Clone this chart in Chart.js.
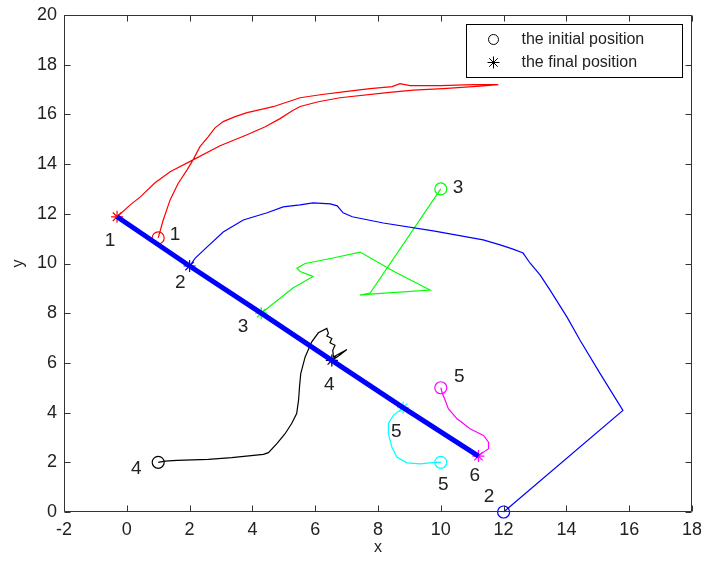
<!DOCTYPE html>
<html>
<head>
<meta charset="utf-8">
<script src="https://cdn.jsdelivr.net/npm/chart.js@4.4.0/dist/chart.umd.min.js"></script>
<style>
  html, body { margin: 0; padding: 0; background: #fff; }
</style>
</head>
<body>
<canvas id="myChart" width="701" height="562"></canvas>
<script>
// agent trajectories, from initial position (first point) to final position (last point)
var path1X = [1.0, 1.16, 1.38, 1.63, 1.92, 2.11, 2.33, 2.59, 2.81, 3.07, 3.45, 3.83, 4.25, 4.66, 5.04, 5.52, 6.16, 6.95, 7.75, 8.45, 8.70, 9.02, 10.0, 11.03, 11.83,
              11.25, 10.08, 9.12, 8.29, 6.79, 6.10, 5.52, 5.27, 4.88, 4.41, 3.83, 2.97, 2.11, 1.38, 0.90, 0.43, 0.11, -0.31];
var path1Y = [11.03, 11.75, 12.56, 13.21, 13.77, 14.17, 14.70, 15.10, 15.46, 15.71, 15.91, 16.07, 16.19, 16.31, 16.47, 16.67, 16.79, 16.92, 17.04, 17.12, 17.24, 17.16, 17.16, 17.20, 17.20,
              17.14, 17.04, 16.98, 16.88, 16.67, 16.51, 16.32, 16.15, 15.83, 15.50, 15.18, 14.74, 14.17, 13.69, 13.25, 12.68, 12.36, 11.88];

var path2X = [12.0, 15.80, 15.07, 14.43, 14.02, 13.48, 13.16, 12.84, 12.62, 12.30, 11.89, 11.35, 9.76, 8.17, 7.18, 6.89, 6.70, 6.48, 5.93, 5.52, 4.98, 4.47, 3.71, 3.07, 2.56, 2.18, 2.0];
var path2Y = [0.0, 4.09, 5.58, 6.92, 7.84, 8.93, 9.54, 10.02, 10.42, 10.58, 10.75, 10.95, 11.31, 11.63, 11.88, 12.04, 12.32, 12.40, 12.44, 12.36, 12.28, 12.04, 11.75, 11.27, 10.67, 10.22, 9.9];

var path3X = [10.0, 7.75, 7.43, 7.75, 9.66, 8.54, 7.43, 6.53, 5.68, 5.42, 5.52, 5.93, 5.29, 4.28];
var path3Y = [13.0, 8.81, 8.73, 8.77, 8.93, 9.66, 10.46, 10.21, 10.0, 9.81, 9.68, 9.48, 9.01, 8.0];

var path4X = [1.0, 1.22, 1.59, 2.60, 3.34, 4.35, 4.51, 4.78, 5.04, 5.25, 5.41, 5.47, 5.50, 5.54, 5.68, 5.89, 6.10, 6.37, 6.42, 6.37, 6.53, 6.47, 6.63, 6.56, 6.58, 7.01, 6.73, 6.53];
var path4Y = [2.0, 2.05, 2.08, 2.12, 2.19, 2.32, 2.39, 2.75, 3.15, 3.56, 3.96, 4.50, 5.03, 5.57, 6.24, 6.85, 7.21, 7.39, 7.19, 7.08, 6.98, 6.81, 6.71, 6.51, 6.24, 6.54, 6.27, 6.1];

var path5X = [10.0, 9.87, 9.34, 8.92, 8.60, 8.44, 8.33, 8.33, 8.49, 8.65, 8.80];
var path5Y = [2.0, 2.01, 1.94, 1.98, 2.21, 2.61, 3.15, 3.56, 3.89, 4.05, 4.2];

var path6X = [10.0, 10.05, 10.14, 10.24, 10.51, 10.93, 11.36, 11.52, 11.52, 11.36, 11.2];
var path6Y = [5.0, 4.77, 4.50, 4.16, 3.76, 3.35, 3.08, 2.81, 2.55, 2.41, 2.25];

var pathColors = ['#ff0000', '#0000ff', '#00ff00', '#000000', '#00ffff', '#ff00ff'];

// number tags next to the initial and final positions
var startTags = ['1', '2', '3', '4', '5', '5'];
var startTagX = [1.54, 11.54, 10.55, 0.30, 10.08, 10.59];
var startTagY = [11.15, 0.60, 13.04, 1.75, 1.09, 5.46];
var finalTags = ['1', '2', '3', '4', '5', '6'];
var finalTagX = [-0.53, 1.70, 3.70, 6.45, 8.58, 11.08];
var finalTagY = [10.9, 9.21, 7.44, 5.10, 3.21, 1.45];

var xTicks = [-2, 0, 2, 4, 6, 8, 10, 12, 14, 16, 18];
var yTicks = [0, 2, 4, 6, 8, 10, 12, 14, 16, 18, 20];

var legendLabels = ['the initial position', 'the final position'];

var pathsX = [path1X, path2X, path3X, path4X, path5X, path6X];
var pathsY = [path1Y, path2Y, path3Y, path4Y, path5Y, path6Y];

function toPoints(xs, ys) {
  return xs.map((x, i) => ({ x: x, y: ys[i] }));
}

var datasets = [];

// thick line through the final positions
datasets.push({
  data: pathsX.map((xs, i) => ({ x: xs[xs.length - 1], y: pathsY[i][pathsY[i].length - 1] })),
  showLine: true,
  borderColor: '#0000ff',
  borderWidth: 5,
  pointRadius: 0,
  clip: false
});

pathsX.forEach((xs, i) => {
  var last = xs.length - 1;
  datasets.push({
    data: toPoints(xs, pathsY[i]),
    showLine: true,
    borderColor: pathColors[i],
    borderWidth: 1.2,
    pointBorderColor: pathColors[i],
    pointBackgroundColor: 'rgba(0,0,0,0)',
    pointBorderWidth: 1.2,
    pointStyle: ctx => ctx.dataIndex === 0 ? 'circle' : 'star',
    pointRadius: ctx => (ctx.dataIndex === 0 || ctx.dataIndex === last) ? 6 : 0,
    pointHoverRadius: 0,
    clip: false
  });
});

const textColor = '#222';

const decorations = {
  id: 'decorations',
  afterDatasetsDraw(chart) {
    const ctx = chart.ctx;
    const xs = chart.scales.x, ys = chart.scales.y;
    const a = chart.chartArea;
    const L = Math.round(a.left) + 0.5, R = Math.round(a.right) - 0.5;
    const T = Math.round(a.top) + 0.5, B = Math.round(a.bottom) - 0.5;
    ctx.save();

    // box and inward ticks on all four sides
    ctx.strokeStyle = '#333';
    ctx.lineWidth = 1;
    ctx.beginPath();
    ctx.rect(L, T, R - L, B - T);
    xTicks.forEach(v => {
      const px = Math.round(xs.getPixelForValue(v)) + 0.5;
      ctx.moveTo(px, B); ctx.lineTo(px, B - 6);
      ctx.moveTo(px, T); ctx.lineTo(px, T + 6);
    });
    yTicks.forEach(v => {
      const py = Math.round(ys.getPixelForValue(v)) + 0.5;
      ctx.moveTo(L, py); ctx.lineTo(L + 6, py);
      ctx.moveTo(R, py); ctx.lineTo(R - 6, py);
    });
    ctx.stroke();

    // number tags
    ctx.fillStyle = textColor;
    ctx.font = '19px "Liberation Sans", Arial, sans-serif';
    ctx.textAlign = 'center';
    ctx.textBaseline = 'middle';
    startTags.forEach((t, i) => {
      ctx.fillText(t, xs.getPixelForValue(startTagX[i]), ys.getPixelForValue(startTagY[i]));
    });
    finalTags.forEach((t, i) => {
      ctx.fillText(t, xs.getPixelForValue(finalTagX[i]), ys.getPixelForValue(finalTagY[i]));
    });

    // legend box in the top right corner
    const lx = R - 225, ly = T + 9, lw = 216, lh = 53;
    ctx.fillStyle = '#fff';
    ctx.fillRect(lx, ly, lw, lh);
    ctx.strokeStyle = '#000';
    ctx.strokeRect(lx, ly, lw, lh);
    ctx.fillStyle = 'rgba(0,0,0,0)';
    Chart.helpers.drawPoint(ctx, { pointStyle: 'circle', radius: 5, borderWidth: 1 }, lx + 27, ly + 15);
    Chart.helpers.drawPoint(ctx, { pointStyle: 'star', radius: 6, borderWidth: 1.5 }, lx + 27, ly + 38);
    ctx.fillStyle = textColor;
    ctx.font = '16px "Liberation Sans", Arial, sans-serif';
    ctx.textAlign = 'left';
    ctx.fillText(legendLabels[0], lx + 55, ly + 15);
    ctx.fillText(legendLabels[1], lx + 55, ly + 38);
    ctx.restore();
  }
};

new Chart('myChart', {
  type: 'scatter',
  data: { datasets: datasets },
  options: {
    responsive: false,
    animation: false,
    devicePixelRatio: 1,
    layout: { padding: { top: 15, right: 9, left: 0, bottom: 0 } },
    plugins: {
      legend: { display: false },
      tooltip: { enabled: false }
    },
    scales: {
      x: {
        type: 'linear',
        min: -2, max: 18,
        afterFit: s => { s.height = 50; s.paddingLeft = 0; s.paddingRight = 0; },
        afterBuildTicks: s => { s.ticks = xTicks.map(v => ({ value: v })); },
        grid: { display: false, drawTicks: false },
        border: { display: false },
        ticks: { color: textColor, padding: 7, font: { family: '"Liberation Sans", Arial', size: 18 }, maxRotation: 0 },
        title: { display: true, text: 'x', color: textColor, font: { family: '"Liberation Sans", Arial', size: 16 }, padding: { top: 0, bottom: 5 } }
      },
      y: {
        type: 'linear',
        min: 0, max: 20,
        afterFit: s => { s.width = 64; s.paddingTop = 0; s.paddingBottom = 0; },
        afterBuildTicks: s => { s.ticks = yTicks.map(v => ({ value: v })); },
        grid: { display: false, drawTicks: false },
        border: { display: false },
        ticks: { color: textColor, padding: 7, font: { family: '"Liberation Sans", Arial', size: 18 } },
        title: { display: true, text: 'y', color: textColor, font: { family: '"Liberation Sans", Arial', size: 16 }, padding: { top: 9, bottom: 0 } }
      }
    }
  },
  plugins: [decorations]
});
</script>
</body>
</html>
